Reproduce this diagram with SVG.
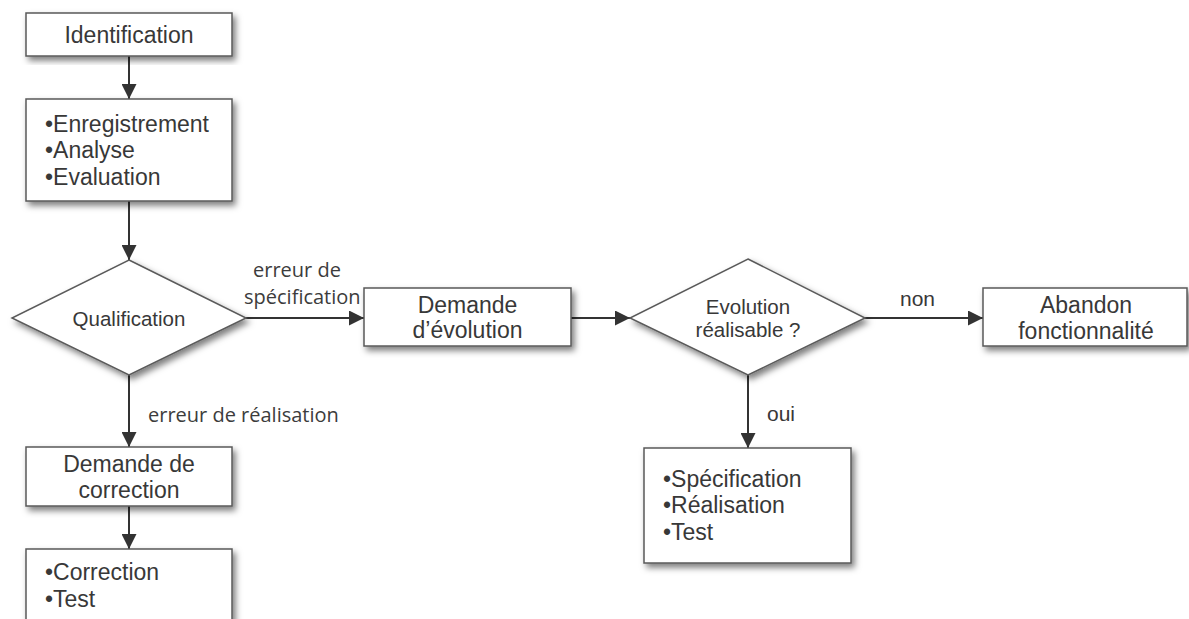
<svg xmlns="http://www.w3.org/2000/svg" width="1189" height="619" viewBox="0 0 1189 619">
  <style>
    .box { fill: #ffffff; stroke: #5a5a5a; stroke-width: 1.5; filter: url(#shadow); }
    .t { font-family: "Liberation Sans", Arial, sans-serif; font-size: 23px; fill: #383838; }
    .td { font-family: "Liberation Sans", Arial, sans-serif; font-size: 20.5px; fill: #383838; }
    .lbl { font-family: "Liberation Sans", Arial, sans-serif; font-size: 21px; fill: #383838; }
    .lbl2 { font-family: "Open Sans", "Noto Sans", sans-serif; font-size: 20px; fill: #3c3c3c; }
    .c { text-anchor: middle; }
    .edge { stroke: #333333; stroke-width: 2; fill: none; marker-end: url(#arrow); }
  </style>
  <defs>
    <filter id="shadow" x="-10%" y="-10%" width="125%" height="130%">
      <feDropShadow dx="3" dy="4" stdDeviation="3" flood-color="#000000" flood-opacity="0.5"/>
    </filter>
    <marker id="arrow" markerUnits="userSpaceOnUse" markerWidth="15" markerHeight="15" refX="15" refY="7.5" orient="auto">
      <path d="M0,0 L15,7.5 L0,15 Z" fill="#333333"/>
    </marker>
  </defs>
  <rect width="1189" height="619" fill="#ffffff"/>

  <!-- connectors and their labels -->
  <g id="connectors">
    <line class="edge" x1="129" y1="56" x2="129" y2="99"/>
    <line class="edge" x1="129" y1="201" x2="129" y2="260"/>
    <line class="edge" x1="246" y1="318" x2="364" y2="318"/>
    <line class="edge" x1="129" y1="375" x2="129" y2="447"/>
    <line class="edge" x1="129" y1="506" x2="129" y2="549"/>
    <line class="edge" x1="571" y1="318" x2="630" y2="318"/>
    <line class="edge" x1="865" y1="318" x2="983" y2="318"/>
    <line class="edge" x1="748" y1="375" x2="748" y2="448"/>
    <text class="lbl2" x="253" y="277">erreur de</text>
    <text class="lbl2" x="244" y="304">spécification</text>
    <text class="lbl2" x="148" y="422">erreur de réalisation</text>
    <text class="lbl" x="900" y="306">non</text>
    <text class="lbl" x="767" y="421">oui</text>
  </g>

  <g id="identification">
    <rect class="box" x="26" y="13" width="206" height="43"/>
    <text class="t c" x="129" y="43">Identification</text>
  </g>

  <g id="enregistrement">
    <rect class="box" x="26" y="99" width="206" height="102"/>
    <text class="t" x="45" y="132">•Enregistrement</text>
    <text class="t" x="45" y="158">•Analyse</text>
    <text class="t" x="45" y="185">•Evaluation</text>
  </g>

  <g id="qualification">
    <polygon class="box" points="129,260 246,318 129,375 12,318"/>
    <text class="td c" x="129" y="326">Qualification</text>
  </g>

  <g id="demande-correction">
    <rect class="box" x="26" y="447" width="206" height="59"/>
    <text class="t c" x="129" y="472">Demande de</text>
    <text class="t c" x="129" y="498">correction</text>
  </g>

  <g id="correction-test">
    <rect class="box" x="26" y="549" width="206" height="90"/>
    <text class="t" x="45" y="580">•Correction</text>
    <text class="t" x="45" y="607">•Test</text>
  </g>

  <g id="demande-evolution">
    <rect class="box" x="364" y="288" width="207" height="58"/>
    <text class="t c" x="467.5" y="313">Demande</text>
    <text class="t c" x="467.5" y="338">d’évolution</text>
  </g>

  <g id="evolution-realisable">
    <polygon class="box" points="748,259 865,318 748,375 630,318"/>
    <text class="td c" x="748" y="314">Evolution</text>
    <text class="td c" x="748" y="337">réalisable ?</text>
  </g>

  <g id="abandon">
    <rect class="box" x="983" y="288" width="204" height="58"/>
    <text class="t c" x="1086" y="313">Abandon</text>
    <text class="t c" x="1086" y="339">fonctionnalité</text>
  </g>

  <g id="specification-realisation-test">
    <rect class="box" x="644" y="448" width="207" height="115"/>
    <text class="t" x="663" y="487">•Spécification</text>
    <text class="t" x="663" y="513">•Réalisation</text>
    <text class="t" x="663" y="540">•Test</text>
  </g>
</svg>
